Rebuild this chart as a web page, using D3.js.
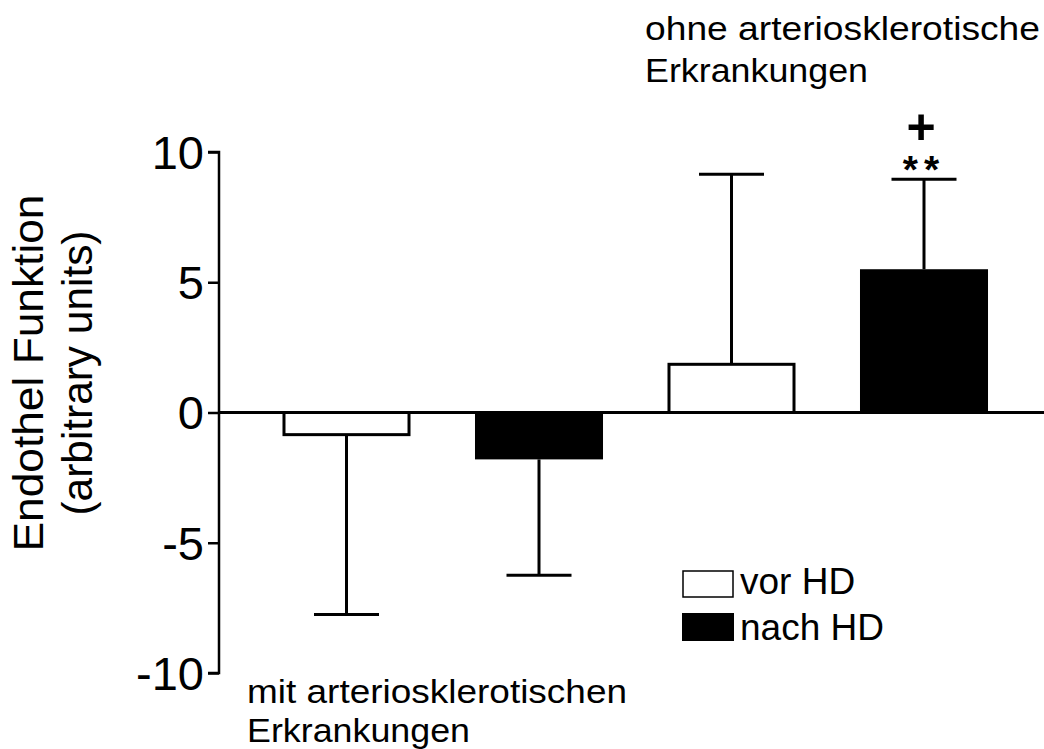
<!DOCTYPE html>
<html>
<head>
<meta charset="utf-8">
<script src="https://cdn.jsdelivr.net/npm/d3@7"></script>
<style>
  html, body { margin: 0; padding: 0; background: #fff; }
  svg { display: block; font-family: Arial, "Liberation Sans", Helvetica, sans-serif; }
</style>
</head>
<body>
<svg id="chart" width="1044" height="749"></svg>
<script>
// Endothelial function before / after haemodialysis, by group
const groups = ["mit-vor", "mit-nach", "ohne-vor", "ohne-nach"];
const phase = ["vor", "nach", "vor", "nach"];
const means = [-0.85, -1.8, 1.85, 5.5];
const errorEnds = [-7.75, -6.25, 9.15, 8.95];
const yTicks = [-10, -5, 0, 5, 10];
const legendLabels = ["vor HD", "nach HD"];
const groupLabelBottom = ["mit arteriosklerotischen", "Erkrankungen"];
const groupLabelTop = ["ohne arteriosklerotische", "Erkrankungen"];
const yTitle = ["Endothel Funktion", "(arbitrary units)"];
const sigMarks = ["+", "**"];

const svg = d3.select("#chart");
const axisX = 219;

const y = d3.scaleLinear().domain([-10, 10]).range([673, 152]);
const x = d3.scaleBand().domain(groups).range([250.25, 1020.25])
  .paddingInner(0.335).paddingOuter(0.1675);

const fillFor = p => p === "vor" ? "#fff" : "#000";

// zero baseline across the plot
svg.append("line")
  .attr("x1", axisX).attr("x2", 1044)
  .attr("y1", y(0)).attr("y2", y(0))
  .attr("stroke", "#000").attr("stroke-width", 3);

// error bars (one-sided, away from zero)
const eb = svg.append("g").attr("stroke", "#000").attr("stroke-width", 3);
groups.forEach((g, i) => {
  const cx = x(g) + x.bandwidth() / 2;
  eb.append("line").attr("x1", cx).attr("x2", cx)
    .attr("y1", y(means[i])).attr("y2", y(errorEnds[i]));
  eb.append("line").attr("x1", cx - 32.5).attr("x2", cx + 32.5)
    .attr("y1", y(errorEnds[i])).attr("y2", y(errorEnds[i]));
});

// bars
svg.append("g").selectAll("rect").data(groups).join("rect")
  .attr("x", (g, i) => x(g) + (phase[i] === "vor" ? 1.5 : 0))
  .attr("width", (g, i) => x.bandwidth() - (phase[i] === "vor" ? 3 : 0))
  .attr("y", (g, i) => y(Math.max(0, means[i])))
  .attr("height", (g, i) => Math.abs(y(means[i]) - y(0)))
  .attr("fill", (g, i) => fillFor(phase[i]))
  .attr("stroke", (g, i) => phase[i] === "vor" ? "#000" : "none")
  .attr("stroke-width", 3);

// y axis
const yAxis = d3.axisLeft(y).tickValues(yTicks).tickSize(11).tickPadding(4)
  .tickFormat(d => String(d));
const ax = svg.append("g").attr("transform", `translate(${axisX},0)`).call(yAxis);
ax.select(".domain").attr("stroke-width", 2.5).attr("d", `M-11,${y(10)}H0V${y(-10)}H-11`);
ax.selectAll(".tick line").attr("stroke-width", 2.5);
ax.selectAll(".tick text").attr("font-size", 47).attr("fill", "#000")
  .attr("font-family", "Arial, 'Liberation Sans', sans-serif")
  .attr("dy", "0.35em");

// y title, two rotated lines
const yt = svg.append("text")
  .attr("transform", `translate(43,373) rotate(-90)`)
  .attr("text-anchor", "middle").attr("font-size", 42).attr("fill", "#000");
yt.append("tspan").attr("x", 0).attr("y", 0)
  .attr("textLength", 357).attr("lengthAdjust", "spacingAndGlyphs").text(yTitle[0]);
yt.append("tspan").attr("x", 0).attr("y", 49)
  .attr("textLength", 285).attr("lengthAdjust", "spacingAndGlyphs").text(yTitle[1]);

// group labels
const gl = svg.append("g").attr("font-size", 33).attr("fill", "#000");
const addLabel = (t, xx, yy, len) => gl.append("text").attr("x", xx).attr("y", yy)
  .attr("textLength", len).attr("lengthAdjust", "spacingAndGlyphs").text(t);
addLabel(groupLabelBottom[0], 247, 703, 380);
addLabel(groupLabelBottom[1], 247, 742, 223);
addLabel(groupLabelTop[0], 645, 40, 395);
addLabel(groupLabelTop[1], 645, 82, 223);

// significance marks over the last bar, stacked in one text block
const cLast = x(groups[3]) + x.bandwidth() / 2;
const sig = svg.append("text").attr("text-anchor", "middle")
  .attr("font-weight", "bold").attr("fill", "#000");
sig.append("tspan").attr("x", cLast - 3).attr("y", 144)
  .attr("font-size", 50).text(sigMarks[0]);
sig.append("tspan").attr("x", cLast).attr("y", 183)
  .attr("font-size", 39).attr("letter-spacing", 6).text(sigMarks[1]);

// legend
const lg = svg.append("g").attr("transform", "translate(682,570)");
legendLabels.forEach((t, i) => {
  lg.append("rect").attr("x", i === 0 ? 1 : 0).attr("y", i * 43 + (i === 0 ? 1 : 0))
    .attr("width", i === 0 ? 50 : 52).attr("height", i === 0 ? 26 : 28)
    .attr("fill", i === 0 ? "#fff" : "#000")
    .attr("stroke", i === 0 ? "#000" : "none").attr("stroke-width", 1.5);
  lg.append("text").attr("x", 58).attr("y", 24 + i * 46)
    .attr("font-size", 37).attr("fill", "#000").text(t);
});
</script>
</body>
</html>
